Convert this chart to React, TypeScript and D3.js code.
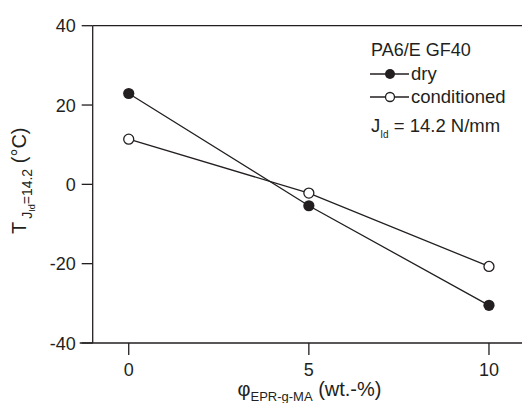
import React from "react";
import * as d3 from "d3";

// EPR-g-MA content (wt.-%)
const contents = [0, 5, 10];
// Temperature at J_Id = 14.2 N/mm (°C)
const dryValues = [22.9, -5.4, -30.5];
const conditionedValues = [11.4, -2.2, -20.7];
const xTicks = [0, 5, 10];
const yTicks = [40, 20, 0, -20, -40];

const W = 522;
const H = 403;
const FONT = "'Liberation Sans', Arial, Helvetica, sans-serif";
const INK = "#231f20";

export default function App() {
  const x = d3.scaleLinear().domain([-1, 11]).range([92.7, 525]);
  const y = d3.scaleLinear().domain([-40, 40]).range([343, 25.7]);

  const line = d3
    .line<number>()
    .x((_, i) => x(contents[i]))
    .y((d) => y(d));

  const x0 = x(-1);
  const x1 = x(11);

  return (
    <svg
      width={W}
      height={H}
      style={{ position: "absolute", left: 0, top: 0, background: "#fff" }}
      fontFamily={FONT}
    >
      <rect width={W} height={H} fill="#fff" />

      {/* frame */}
      <g stroke={INK} strokeWidth={1.3} fill="none">
        <line x1={x0} x2={x1} y1={y(40)} y2={y(40)} />
        <line x1={x0 - 13} x2={x1} y1={y(-40)} y2={y(-40)} />
        <line x1={x0} x2={x0} y1={y(40)} y2={y(-40)} />
        <line x1={x1} x2={x1} y1={y(40)} y2={y(-40)} />
      </g>

      {/* y axis */}
      {yTicks.map((t) => (
        <g key={`y${t}`}>
          <line x1={x0 - 11} x2={x0} y1={y(t)} y2={y(t)} stroke={INK} strokeWidth={1.3} />
          <text
            x={x0 - 17}
            y={y(t) + 6.5}
            textAnchor="end"
            fontSize={18}
            fill={INK}
          >
            {t}
          </text>
        </g>
      ))}

      {/* x axis */}
      {xTicks.map((t) => (
        <g key={`x${t}`}>
          <line x1={x(t)} x2={x(t)} y1={y(-40)} y2={y(-40) + 12} stroke={INK} strokeWidth={1.3} />
          <text x={x(t)} y={376} textAnchor="middle" fontSize={18} fill={INK}>
            {t}
          </text>
        </g>
      ))}

      {/* axis titles */}
      <text x={309.5} y={396} textAnchor="middle" fontSize={20} fill={INK}>
        φ
        <tspan fontSize={13} dy={5}>EPR-g-MA</tspan>
        <tspan dy={-5}> (wt.-%)</tspan>
      </text>
      <text transform="translate(26,234) rotate(-90)" fontSize={20} fill={INK}>
        T
        <tspan fontSize={14} dy={6} dx={3}>J</tspan>
        <tspan fontSize={9} dy={3}>Id</tspan>
        <tspan fontSize={14} dy={-3}>=14.2</tspan>
        <tspan dy={-6}> (°C)</tspan>
      </text>

      {/* series */}
      <path d={line(dryValues) ?? ""} fill="none" stroke={INK} strokeWidth={1.3} />
      <path d={line(conditionedValues) ?? ""} fill="none" stroke={INK} strokeWidth={1.3} />
      {dryValues.map((v, i) => (
        <circle key={`d${i}`} cx={x(contents[i])} cy={y(v)} r={5.6} fill={INK} />
      ))}
      {conditionedValues.map((v, i) => (
        <circle
          key={`c${i}`}
          cx={x(contents[i])}
          cy={y(v)}
          r={5}
          fill="#fff"
          stroke={INK}
          strokeWidth={1.3}
        />
      ))}

      {/* legend */}
      <g fill={INK}>
        <text x={371} y={56} fontSize={18}>PA6/E GF40</text>
        <line x1={370} x2={409} y1={74} y2={74} stroke={INK} strokeWidth={1.3} />
        <circle cx={390} cy={74} r={5} fill={INK} />
        <text x={411} y={80} fontSize={18.5}>dry</text>
        <line x1={370} x2={409} y1={97} y2={97} stroke={INK} strokeWidth={1.3} />
        <circle cx={390} cy={97} r={4.5} fill="#fff" stroke={INK} strokeWidth={1.3} />
        <text x={411} y={103} fontSize={18.5}>conditioned</text>
        <text x={371} y={132} fontSize={18.5}>
          J
          <tspan fontSize={10} dy={6}>Id</tspan>
          <tspan dy={-6}> = 14.2 N/mm</tspan>
        </text>
      </g>
    </svg>
  );
}
